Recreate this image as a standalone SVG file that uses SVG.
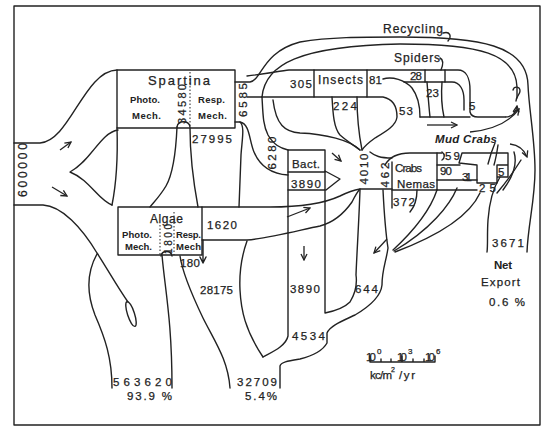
<svg xmlns="http://www.w3.org/2000/svg" width="544" height="427" viewBox="0 0 544 427">
<defs>
<marker id="ah" viewBox="0 0 8 8" refX="7" refY="4" markerWidth="8" markerHeight="8" markerUnits="userSpaceOnUse" orient="auto">
<path d="M1,1 L7,4 L1,7" fill="none" stroke="#222" stroke-width="1.3"/>
</marker>
</defs>
<style>
.l{fill:none;stroke:#222;stroke-width:1.4;stroke-linecap:round;stroke-linejoin:round}
.d{fill:none;stroke:#222;stroke-width:1;stroke-dasharray:1.5 2}
.a{fill:none;stroke:#222;stroke-width:1.3;marker-end:url(#ah)}
text{font-family:"Liberation Sans",Arial,sans-serif;font-size:11.5px;fill:#222;stroke:#222;stroke-width:0.25}
.s{font-size:9.5px;font-weight:bold;stroke-width:0}
.i{font-style:italic;font-weight:bold;font-size:11.5px;stroke-width:0}
.b{font-weight:bold;stroke-width:0}
</style>
<rect width="544" height="427" fill="#fff"/>
<rect x="14" y="6" width="526" height="419" class="l"/>

<g id="connectors">
<path class="l" d="M14,143 H40 C70,141 84,71 117,70"/>
<path class="l" d="M14,205 H43 C62,206 82,228 97,253 C108,270 118,288 128,302"/>
<ellipse class="l" cx="131" cy="314" rx="3.5" ry="13" transform="rotate(-18 131 314)"/>
<path class="l" d="M118,130 C100,133 92,160 70,172 C90,180 98,200 112,205"/>
<path class="l" d="M117,128 C118,160 116,185 112,205"/>
<path class="l" d="M177,127 C176,150 174,172 166,186 C160,196 154,202 150,207"/>
<path class="l" d="M190,128 C190,155 193,180 198,207"/>
<path class="l" d="M177,127 C178,120 189,120 190,127"/>
<path class="l" d="M235,122 H240 C245,126 242,140 241,155 L239,207"/>
<path class="l" d="M97,254 C87,272 86,292 95,315 C105,338 112,358 112,388"/>
<path class="l" d="M162,255 C165,290 172,320 172,388"/>
<path class="l" d="M161,256 C162,250 171,250 172,256"/>
<path class="l" d="M180,256 C182,270 192,295 203,318 C215,342 228,360 230,388"/>
<path class="l" d="M203,240 V262 M200,257 L203,263 L206,257"/>
<path class="l" d="M247,241 C242,255 239,270 240,290 C241,310 245,330 263,357"/>
<path class="l" d="M202,207 H270 C300,207 325,203 340,196 C348,192 354,190 360,189 H392"/>
<path class="l" d="M202,240 H247 C270,238 300,230 320,226 C335,222 345,212 352,202 C355,196 357,192 360,189"/>
<path class="l" d="M288,190 V336 C286,346 272,352 263,357"/>
<path class="l" d="M325,190 V313 C335,311 345,307 350,302 C356,292 357,282 356,275 C357,250 359,220 360,190"/>
<path class="l" d="M383,190 C384,210 386,235 388,248 C386,262 382,270 382,285 C381,295 372,305 355,315 C340,322 330,326 327,333 L327,343 C322,352 312,356 300,359 C288,361 281,362 280,366 V388"/>
<path class="l" d="M437,190 C432,205 420,225 393,250"/>
<path class="l" d="M457,188 C450,205 430,230 394,251"/>
<path class="l" d="M480,193 C470,215 440,235 395,252"/>
<path class="l" d="M392,190 V208"/>
<path class="l" d="M417,190 C417,200 415,206 410,212"/>
<path class="l" d="M235,82 H250 C262,80 262,52 300,42 C330,37 360,37 400,37 C480,37 527,45 528,85 C529,110 535,140 535,170 C535,200 528,225 527,252"/>
<path class="l" d="M262,97 C265,64 300,46 400,44 C480,44 516,54 517,87 L517,98"/>
<path class="l" d="M240,122 C250,124 249,140 254,152 C260,166 272,174 288,175"/>
<path class="l" d="M262,97 C263,115 263,125 268,135 C274,145 280,148 288,150"/>
<path class="l" d="M273,100 C276,125 285,132 300,133 C325,134 350,140 360,150"/>
<path class="l" d="M247,76 C265,74 280,71 289,70 H314"/>
<path class="l" d="M247,97 H314"/>
<path class="l" d="M332,97 C333,115 334,128 340,135 C348,142 355,146 360,150"/>
<path class="l" d="M357,97 C357,115 359,135 362,150"/>
<path class="l" d="M383,79 C392,76 405,80 412,88 C418,96 420,108 420,117"/>
<path class="l" d="M367,97 H383 C393,99 397,106 397,117 C396,126 385,132 375,138 C368,143 364,147 362,150"/>
<path class="l" d="M367,70 H425"/>
<path class="l" d="M404,82 H425"/>
<path class="l" d="M445,70 H458 C466,70 470,78 470,90 V112 C471,116 474,117 478,117 H505"/>
<path class="a" d="M505,117 C512,117 516,113 517,106"/>
<path class="a" d="M470,132 C490,130 508,124 519,109"/>
<path class="l" d="M445,82 H452 C460,82 464,90 464,100 V110"/>
<path class="l" d="M427,82 C428,95 429,108 430,117"/>
<path class="l" d="M442,82 C441,95 442,108 444,117"/>
<path class="l" d="M420,117 H470"/>
<path class="l" d="M370,152 C375,156 380,158 392,158"/>
<path class="l" d="M500,177 C492,190 489,205 488,220 C487,235 488,245 487,252"/>
<path class="l" d="M503,190 C512,178 518,165 514,152"/>
<path class="l" d="M497,193 C508,180 516,168 521,160"/>
<path class="l" d="M437,165 H460"/>
<path class="l" d="M437,180 H477"/>
<path class="l" d="M437,190 H477"/>
<path class="l" d="M385,165 C390,156 398,153 410,153 H442"/>
<path class="l" d="M442,152 C445,154 445,158 442,160"/>
<path class="l" d="M443,33 C450,31 452,36 448,41"/>
<path class="l" d="M440,58 C444,60 443,65 441,70"/>
<path class="l" d="M513,90 C514,86 520,86 520,91 C520,95 516,96 516,101"/>
<path class="l" d="M495,143 C492,150 490,156 488,164 M498,145 C497,152 496,158 494,165"/>
<path class="a" d="M60,150 L71,142"/>
<path class="a" d="M52,187 L67,196"/>
<path class="a" d="M332,153 L341,161"/>
<path class="a" d="M287,217 L310,208"/>
<path class="a" d="M304,246 L304,260"/>
<path class="a" d="M387,239 L374,253"/>
<path class="a" d="M427,125 L457,125"/>
<path class="a" d="M510,144 C518,145 524,149 527,157"/>
</g>

<g id="spartina">
<rect class="l" x="117" y="70" width="118" height="58"/>
<path class="d" d="M190,72 V128"/>
<text x="148" y="85" textLength="62" style="font-size:13px">Spartina</text>
<text class="s" x="130" y="103" textLength="30">Photo.</text>
<text class="s" x="132" y="119" textLength="29">Mech.</text>
<text class="s" x="198" y="103" textLength="27">Resp.</text>
<text class="s" x="198" y="119" textLength="29">Mech.</text>
<text transform="translate(186,104) rotate(-90)" text-anchor="middle" textLength="40" style="font-size:11px">34580</text>
</g>

<g id="algae">
<rect class="l" x="118" y="207" width="84" height="48"/>
<path class="d" d="M174,212 V255 M160,225 V255"/>
<text x="150" y="223" textLength="33" style="font-size:12px">Algae</text>
<text class="s" x="122" y="238" textLength="30">Photo.</text>
<text class="s" x="125" y="250" textLength="27">Mech.</text>
<text class="s" x="176" y="238" textLength="25">Resp.</text>
<text class="s" x="176" y="250" textLength="25">Mech</text>
<text transform="translate(172,239) rotate(-90)" text-anchor="middle" textLength="30" style="font-size:10px">1800</text>
</g>

<g id="insects">
<rect class="l" x="314" y="70" width="53" height="27"/>
<text x="318" y="84" textLength="45" style="font-size:12px">Insects</text>
</g>

<g id="spiders">
<rect class="l" x="425" y="70" width="20" height="12"/>
<text x="394" y="62" textLength="46" style="font-size:12px">Spiders</text>
</g>

<g id="bacteria">
<rect class="l" x="288" y="150" width="37" height="40"/>
<path class="l" d="M288,172 H325 M325,171 L340,179 L326,190"/>
<text x="306" y="168" text-anchor="middle" textLength="28">Bact.</text>
<text x="306" y="188" text-anchor="middle" textLength="30">3890</text>
</g>

<g id="crabs-nemas">
<path class="l" d="M392,162 V190 H437 V153"/>
<text x="395" y="172" textLength="27">Crabs</text>
<text x="397" y="188" textLength="38">Nemas</text>
</g>

<g id="mud-crabs">
<path class="l" d="M462,153 H508 V177 H497 M462,153 L459,163 L477,165 V183 H497 V165 H508"/>
<text class="i" x="435" y="143" textLength="62">Mud Crabs</text>
</g>

<g id="labels">
<text x="383" y="33" textLength="60" style="font-size:12px">Recycling</text>
<text transform="translate(27,170) rotate(-90)" text-anchor="middle" textLength="54" style="font-size:12px">600000</text>
<text transform="translate(247,100) rotate(-90)" text-anchor="middle" textLength="34">6585</text>
<text transform="translate(276,153) rotate(-90)" text-anchor="middle" textLength="33">6280</text>
<text transform="translate(368,169) rotate(-90)" text-anchor="middle" textLength="31">4010</text>
<text transform="translate(389,175) rotate(-90)" text-anchor="middle" textLength="25">462</text>
<text x="290" y="88" textLength="22">305</text>
<text x="369" y="84" textLength="13">81</text>
<text x="410" y="80" textLength="12">28</text>
<text x="426" y="97" textLength="13">23</text>
<text x="333" y="110" textLength="24">224</text>
<text x="399" y="115" textLength="14">53</text>
<text x="469" y="110">5</text>
<text x="192" y="143" textLength="40">27995</text>
<text x="207" y="229" textLength="30">1620</text>
<text x="180" y="267" textLength="20">180</text>
<text x="200" y="294" textLength="33">28175</text>
<text x="113" y="386" textLength="59">563620</text>
<text x="127" y="400" textLength="45">93.9 %</text>
<text x="237" y="386" textLength="40">32709</text>
<text x="245" y="400" textLength="32">5.4%</text>
<text x="290" y="293" textLength="30">3890</text>
<text x="355" y="293" textLength="23">644</text>
<text x="292" y="340" textLength="33">4534</text>
<text x="393" y="206" textLength="22">372</text>
<text x="445" y="160" textLength="15">59</text>
<text x="440" y="175" textLength="12">90</text>
<text x="462" y="181" textLength="10">31</text>
<text x="498" y="176">5</text>
<text x="479" y="192" textLength="17">25</text>
<text x="492" y="247" textLength="32">3671</text>
<text class="b" x="494" y="269" textLength="18">Net</text>
<text x="481" y="286" textLength="39">Export</text>
<text x="489" y="306" textLength="36">0.6 %</text>
</g>

<g id="scale">
<path class="l" d="M370,362 H435 M370,356 V362 M402,356 V362 M435,356 V362 M381,359 V362 M391,359 V362 M413,359 V362 M424,359 V362"/>
<text x="366" y="361" textLength="10">10</text><text x="377" y="354" style="font-size:8px">0</text>
<text x="397" y="361" textLength="10">10</text><text x="408" y="354" style="font-size:8px">3</text>
<text x="425" y="361" textLength="10">10</text><text x="436" y="354" style="font-size:8px">6</text>
<text x="370" y="379" textLength="22">kc/m</text><text x="391" y="372" style="font-size:7px">2</text>
<text x="399" y="379" textLength="16">/yr</text>
</g>
</svg>
